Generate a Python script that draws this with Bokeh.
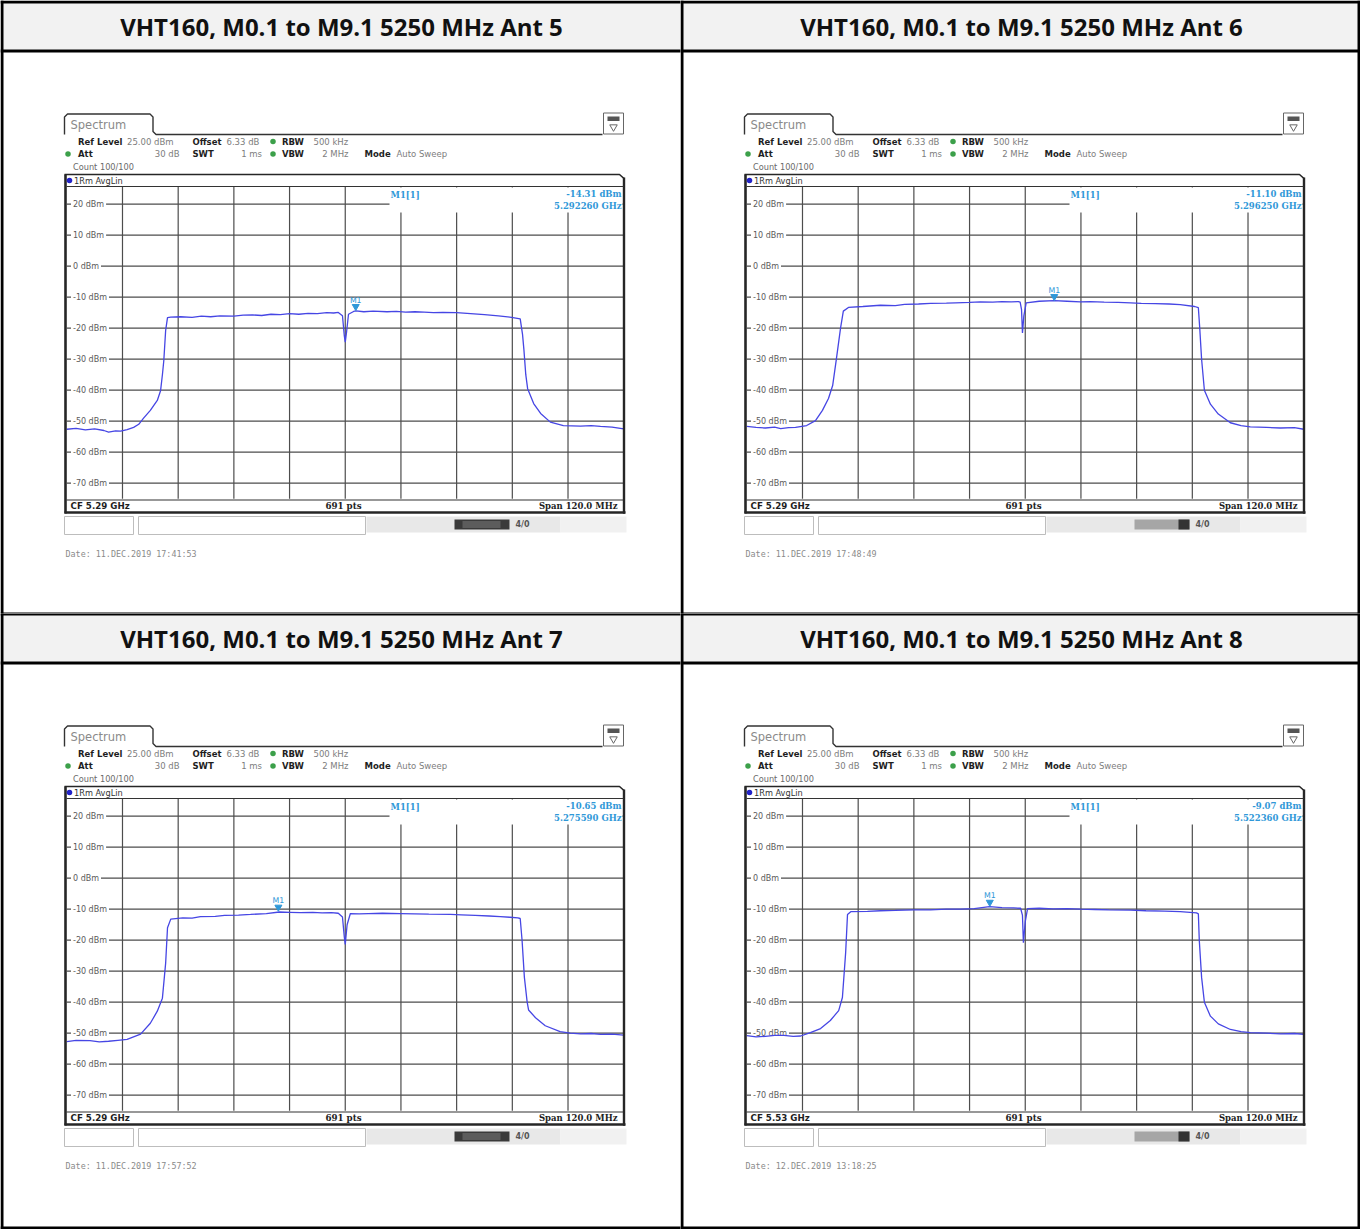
from bokeh.plotting import figure
from bokeh.layouts import gridplot
from bokeh.models import Range1d
from bokeh.core.properties import value
from bokeh.embed import file_html
from bokeh.resources import INLINE

# ---------------- data ----------------
panel_titles = [
    "VHT160, M0.1 to M9.1 5250 MHz Ant 5",
    "VHT160, M0.1 to M9.1 5250 MHz Ant 6",
    "VHT160, M0.1 to M9.1 5250 MHz Ant 7",
    "VHT160, M0.1 to M9.1 5250 MHz Ant 8",
]
cf_labels = ["CF 5.29 GHz", "CF 5.29 GHz", "CF 5.29 GHz", "CF 5.53 GHz"]
points_label = "691 pts"
span_label = "Span 120.0 MHz"
dates = [
    "Date: 11.DEC.2019  17:41:53",
    "Date: 11.DEC.2019  17:48:49",
    "Date: 11.DEC.2019  17:57:52",
    "Date: 12.DEC.2019  13:18:25",
]
marker_offset_mhz = [2.26, 6.25, -14.41, -7.64]
marker_level_dbm = [-14.31, -11.10, -10.65, -9.07]
marker_level_text = ["-14.31 dBm", "-11.10 dBm", "-10.65 dBm", "-9.07 dBm"]
marker_freq_text = ["5.292260 GHz", "5.296250 GHz", "5.275590 GHz", "5.522360 GHz"]

ref_level_dbm = 25.0
bottom_level_dbm = -75.0
span_mhz = 120.0
level_ticks = [20, 10, 0, -10, -20, -30, -40, -50, -60, -70]
freq_grid_mhz = [-48, -36, -24, -12, 0, 12, 24, 36, 48]

ant5_offset_mhz = [-60.0, -58.0, -56.0, -54.0, -52.0, -51.0, -49.5, -48.4, -47.0, -45.6,
                   -44.5, -43.5, -42.0, -40.5, -39.8, -39.4, -39.1, -38.7, -38.3, -37.6,
                   -35.5, -33.0, -31.0, -29.0, -27.0, -24.0, -22.0, -20.0, -18.0, -16.0,
                   -14.0, -12.0, -10.0, -8.0, -6.0, -4.0, -2.5, -1.5, -0.6, -0.2,
                   0.0, 0.3, 0.7, 1.8, 2.3, 4.0, 6.0, 9.0, 11.0, 13.0,
                   15.0, 17.0, 19.0, 21.0, 24.0, 27.0, 30.0, 33.0, 35.8, 37.7,
                   38.2, 38.5, 38.9, 39.3, 40.6, 42.1, 44.2, 47.0, 50.7, 53.0,
                   55.0, 57.5, 60.0]
ant5_level_dbm = [-52.6, -52.3, -52.8, -52.5, -53.0, -53.5, -53.1, -53.2, -52.7, -52.0,
                  -51.0, -49.1, -46.5, -43.3, -40.2, -35.0, -30.5, -20.7, -16.6, -16.4,
                  -16.3, -16.5, -16.1, -16.3, -16.0, -16.1, -15.8, -15.7, -15.9, -15.5,
                  -15.6, -15.3, -15.5, -15.2, -15.3, -15.0, -15.1, -14.9, -16.0, -22.5,
                  -24.5, -21.0, -15.5, -14.6, -14.4, -14.7, -14.5, -14.7, -14.6, -14.8,
                  -14.7, -14.8, -15.0, -14.9, -15.0, -15.3, -15.6, -16.0, -16.5, -17.0,
                  -22.0, -27.0, -35.0, -39.5, -44.3, -47.5, -50.3, -51.4, -51.6, -51.4,
                  -51.7, -51.9, -52.5]

ant6_offset_mhz = [-60.0, -58.0, -56.0, -54.0, -52.7, -51.0, -49.5, -47.1, -45.2, -43.7,
                   -42.4, -41.5, -40.7, -39.8, -39.2, -38.1, -35.0, -31.2, -28.0, -26.0,
                   -23.0, -20.4, -17.0, -15.0, -12.0, -9.7, -7.0, -5.0, -3.0, -1.5,
                   -1.1, -0.8, -0.6, -0.3, 0.2, 3.0, 6.25, 9.0, 11.9, 14.0,
                   17.0, 20.0, 22.7, 25.0, 28.0, 31.0, 33.4, 36.5, 37.3, 37.6,
                   38.0, 38.6, 39.9, 41.6, 44.2, 46.5, 48.5, 52.0, 55.0, 58.0,
                   60.0]
ant6_level_dbm = [-51.7, -52.0, -52.2, -51.9, -52.4, -52.1, -52.0, -51.4, -49.8, -46.5,
                  -42.7, -38.5, -30.0, -20.0, -14.5, -13.3, -13.0, -12.6, -12.7, -12.3,
                  -12.2, -12.0, -11.9, -11.8, -11.7, -11.5, -11.6, -11.4, -11.5, -11.4,
                  -11.6, -14.0, -21.5, -16.0, -11.8, -11.3, -11.1, -11.3, -11.5, -11.4,
                  -11.6, -11.7, -11.8, -12.0, -12.1, -12.2, -12.4, -13.0, -13.4, -20.0,
                  -30.0, -40.0, -44.5, -47.7, -50.5, -51.4, -51.8, -52.0, -52.2, -52.1,
                  -52.6]

ant7_offset_mhz = [-60.0, -58.0, -55.0, -53.0, -51.0, -49.0, -47.0, -44.1, -42.0, -40.5,
                   -39.4, -38.7, -38.3, -37.6, -35.0, -33.0, -31.2, -28.0, -26.0, -23.0,
                   -20.4, -17.0, -14.2, -12.0, -9.7, -7.0, -5.0, -3.0, -1.5, -0.6,
                   -0.2, 0.0, 0.4, 1.1, 3.0, 5.0, 8.0, 11.9, 15.0, 18.0,
                   22.7, 25.0, 28.0, 31.0, 33.4, 35.5, 37.2, 37.7, 38.1, 38.6,
                   39.2, 39.5, 41.0, 43.1, 46.3, 48.5, 50.7, 53.0, 55.0, 57.5,
                   60.0]
ant7_level_dbm = [-52.7, -52.3, -52.4, -52.8, -52.6, -52.3, -52.0, -50.3, -46.8, -42.9,
                  -38.7, -27.4, -16.0, -13.2, -12.8, -12.9, -12.4, -12.3, -12.0, -11.9,
                  -11.7, -11.4, -10.9, -11.0, -11.1, -11.0, -11.2, -11.1, -11.3, -12.5,
                  -19.0, -21.4, -15.0, -11.4, -11.5, -11.4, -11.3, -11.4, -11.5, -11.6,
                  -11.7, -11.8, -12.0, -12.2, -12.4, -12.6, -12.8, -13.0, -20.0, -32.0,
                  -40.0, -42.5, -45.0, -47.6, -49.5, -50.0, -50.2, -50.1, -50.4, -50.3,
                  -50.6]

ant8_offset_mhz = [-60.0, -58.0, -56.0, -54.0, -52.0, -50.0, -48.4, -46.3, -44.1, -42.0,
                   -40.2, -39.4, -38.7, -38.3, -37.6, -34.0, -31.2, -28.0, -24.0, -20.4,
                   -17.0, -14.0, -11.0, -7.7, -5.0, -2.5, -1.0, -0.6, -0.4, 0.0,
                   0.5, 3.0, 6.0, 9.0, 11.9, 15.0, 18.0, 22.7, 26.0, 30.0,
                   33.4, 36.9, 37.3, 37.5, 38.0, 38.6, 39.9, 41.6, 44.2, 46.5,
                   48.5, 52.0, 55.0, 58.0, 60.0]
ant8_level_dbm = [-50.8, -51.2, -51.0, -50.7, -50.7, -51.0, -50.9, -49.8, -48.5, -45.9,
                  -42.7, -38.5, -24.0, -11.7, -10.8, -10.7, -10.5, -10.4, -10.2, -10.2,
                  -10.0, -10.0, -9.8, -9.2, -9.5, -9.6, -9.7, -12.0, -20.8, -14.0,
                  -9.8, -9.7, -9.9, -9.8, -10.0, -10.1, -10.2, -10.3, -10.5, -10.6,
                  -10.8, -11.2, -11.5, -20.0, -32.0, -40.0, -44.5, -47.0, -48.8, -49.5,
                  -49.8, -50.0, -50.2, -50.1, -50.4]

traces = [
    (ant5_offset_mhz, ant5_level_dbm),
    (ant6_offset_mhz, ant6_level_dbm),
    (ant7_offset_mhz, ant7_level_dbm),
    (ant8_offset_mhz, ant8_level_dbm),
]

# instrument settings text: (text, bold?, x, align)
setting_rows = [
    [("Ref Level", True, 77.5, "left"), ("25.00 dBm", False, 126.5, "left"),
     ("Offset", True, 192, "left"), ("6.33 dB", False, 226, "left"),
     ("RBW", True, 281.5, "left"), ("500 kHz", False, 313, "left")],
    [("Att", True, 77.5, "left"), ("30 dB", False, 179, "right"),
     ("SWT", True, 192, "left"), ("1 ms", False, 261.5, "right"),
     ("VBW", True, 281.5, "left"), ("2 MHz", False, 348, "right"),
     ("Mode", True, 364, "left"), ("Auto Sweep", False, 396, "left")],
]

# ---------------- layout geometry (reference pixels) ----------------
CELL_W = 680
ROW_TOP = [0, 613]
ROW_BOT = [613, 1229]
ROW_SHIFT = [0, 612]
FIG_W = 680
FIG_H = [613, 616]
GX0 = 66.3       # left edge of the diagram grid inside a cell
GW = 556.9       # grid width
GY0 = 188.2      # y of the reference level
PX_PER_DB = 3.1

SANS = value("DejaVu Sans")
SERIF = value("DejaVu Serif")
MONO = value("DejaVu Sans Mono")
HEAD = value("Open Sans")

TRACE = "#4646e4"
MARK = "#2f98d8"
GRID = "#4d4d4d"
FRAME = "#262626"


def txt(p, x, y, t, size, color, font=SANS, style="normal", align="left",
        baseline="middle", xr="px", yr="px", **kw):
    p.text(x=x, y=y, text=t, text_font=font, text_font_size=f"{size}px",
           text_font_style=style, text_color=color, text_align=align,
           text_baseline=baseline, x_range_name=xr, y_range_name=yr, **kw)


def make_cell(i):
    r, c = divmod(i, 2)
    ox = CELL_W * c
    oy = ROW_SHIFT[r]
    k = span_mhz / GW
    x_range = Range1d(-60 - GX0 * k, -60 + (CELL_W - GX0) * k)
    y0g = oy + GY0
    y_range = Range1d(ref_level_dbm - (ROW_BOT[r] - y0g) / PX_PER_DB,
                      ref_level_dbm + (y0g - ROW_TOP[r]) / PX_PER_DB)
    p = figure(width=FIG_W, height=FIG_H[r], x_range=x_range, y_range=y_range,
               output_backend="svg", toolbar_location=None,
               x_axis_location=None, y_axis_location=None, min_border=0)
    p.grid.visible = False
    p.outline_line_color = None
    p.background_fill_color = "white"
    p.border_fill_color = "white"
    p.extra_x_ranges = {"px": Range1d(ox, ox + CELL_W)}
    p.extra_y_ranges = {"px": Range1d(ROW_BOT[r], ROW_TOP[r])}
    P = dict(x_range_name="px", y_range_name="px")

    # ---- table header band ----
    p.quad(left=[3, 3], right=[1357, 1357], top=[3, 615], bottom=[49, 661],
           fill_color="#f2f2f2", line_color=None, **P)
    txt(p, [ox + 341], [oy + 26], [panel_titles[i]], 24, "#111", font=HEAD,
        style="bold", align="center")

    # ---- Spectrum tab & header ----
    p.line(x=[ox + 64, ox + 64, ox + 67, ox + 149.5, ox + 152.5, ox + 152.5, ox + 155.5, ox + 602],
           y=[oy + 134, oy + 116.5, oy + 113.5, oy + 113.5, oy + 116.5, oy + 131, oy + 134, oy + 134],
           line_color="#333333", line_width=1.4, **P)
    txt(p, [ox + 70], [oy + 124], ["Spectrum"], 11.5, "#8a8a8a")
    # icon at right
    p.quad(left=[ox + 603], right=[ox + 623], top=[oy + 112.5], bottom=[oy + 133.5],
           fill_color="white", line_color="#666666", line_width=1, **P)
    p.quad(left=[ox + 607], right=[ox + 619], top=[oy + 116], bottom=[oy + 120.5],
           fill_color="#555555", line_color=None, **P)
    p.scatter(x=[ox + 613], y=[oy + 126.5], marker="inverted_triangle", size=7.5,
              fill_color="white", line_color="#666666", **P)

    for row, yy in zip(setting_rows, [141, 153.5]):
        for t, bold, xx, al in row:
            if bold:
                txt(p, [ox + xx], [oy + yy], [t], 8.5, "#1e1e1e", style="bold", align=al)
            else:
                txt(p, [ox + xx], [oy + yy], [t], 8.5, "#7d7d7d", align=al)
    p.scatter(x=[ox + 67.5, ox + 272.5, ox + 272.5], y=[oy + 153.5, oy + 141, oy + 153.5],
              marker="circle", size=5.5, fill_color="#3ca04a", line_color=None, **P)
    txt(p, [ox + 72.5], [oy + 166], ["Count 100/100"], 8.2, "#6a6a6a")

    # ---- grid ----
    p.segment(x0=freq_grid_mhz, x1=freq_grid_mhz,
              y0=[bottom_level_dbm] * len(freq_grid_mhz),
              y1=[ref_level_dbm + 0.6] * len(freq_grid_mhz),
              line_color=GRID, line_width=1.2)
    p.segment(x0=[-60] * len(level_ticks), x1=[60] * len(level_ticks),
              y0=level_ticks, y1=level_ticks, line_color=GRID, line_width=1.2)
    # marker info box
    p.quad(left=[ox + 389], right=[ox + 622], top=[oy + 187], bottom=[oy + 212],
           fill_color="white", line_color=None, **P)
    # y labels
    p.text(x=[ox + 70.5] * len(level_ticks), y=level_ticks,
           text=[f"{t} dBm" for t in level_ticks], text_font=SANS,
           text_font_size="8px", text_color="#5a5a5a", text_align="left",
           text_baseline="middle", background_fill_color="white",
           padding=2, x_range_name="px")

    # ---- trace ----
    xs, ys = traces[i]
    p.line(x=xs, y=ys, line_color=TRACE, line_width=1.3)

    # ---- marker ----
    p.scatter(x=[marker_offset_mhz[i]], y=[marker_level_dbm[i] + 1.3],
              marker="inverted_triangle", size=7, fill_color=MARK, line_color=MARK)
    txt(p, [marker_offset_mhz[i]], [marker_level_dbm[i]], ["M1"], 7.8, MARK,
        xr="default", yr="default", align="center", y_offset=-10.5)
    txt(p, [ox + 390], [oy + 194], ["M1[1]"], 8.5, MARK, font=SERIF, style="bold")
    txt(p, [ox + 621], [oy + 193.5], [marker_level_text[i]], 8.5, MARK, font=SERIF,
        style="bold", align="right")
    txt(p, [ox + 621], [oy + 205], [marker_freq_text[i]], 8.5, MARK, font=SERIF,
        style="bold", align="right")

    # ---- diagram frame ----
    p.line(x=[ox + 64, ox + 619, ox + 623.5, ox + 623.5],
           y=[oy + 174, oy + 174, oy + 178, oy + 513], line_color=FRAME,
           line_width=1.6, **P)
    p.line(x=[ox + 65, ox + 65], y=[oy + 174, oy + 513], line_color=FRAME,
           line_width=2.6, **P)
    p.line(x=[ox + 623.5, ox + 623.5], y=[oy + 177, oy + 513], line_color=FRAME,
           line_width=2.4, **P)
    p.line(x=[ox + 64, ox + 625], y=[oy + 512, oy + 512], line_color=FRAME,
           line_width=2.6, **P)
    p.line(x=[ox + 66, ox + 623], y=[oy + 186, oy + 186], line_color="#333333",
           line_width=1.2, **P)
    p.line(x=[ox + 66, ox + 623], y=[oy + 499.5, oy + 499.5], line_color="#333333",
           line_width=1.2, **P)
    p.scatter(x=[ox + 69], y=[oy + 180], marker="circle", size=5.5,
              fill_color="#2323c8", line_color=None, **P)
    txt(p, [ox + 73.5], [oy + 180], ["1Rm AvgLin"], 8.2, "#333333")

    # bottom bar texts
    txt(p, [ox + 70], [oy + 505.5], [cf_labels[i]], 8.7, "#1e1e1e", style="bold")
    txt(p, [ox + 343], [oy + 505.5], [points_label], 8.7, "#1e1e1e", font=SERIF,
        style="bold", align="center")
    txt(p, [ox + 617], [oy + 505.5], [span_label], 8.5, "#1e1e1e", font=SERIF,
        style="bold", align="right")

    # status bar
    p.quad(left=[ox + 366, ox + 560], right=[ox + 560, ox + 626],
           top=[oy + 516, oy + 516], bottom=[oy + 532, oy + 532],
           fill_color=["#e8e8e8", "#f1f1f1"], line_color=None, **P)
    p.quad(left=[ox + 64, ox + 138], right=[ox + 133, ox + 365],
           top=[oy + 516, oy + 516], bottom=[oy + 534, oy + 534],
           fill_color="white", line_color="#bdbdbd", line_width=1, **P)
    if c == 0:
        p.quad(left=[ox + 454], right=[ox + 509], top=[oy + 519], bottom=[oy + 529],
               fill_color="#3a3a3a", line_color=None, **P)
        p.quad(left=[ox + 462], right=[ox + 500], top=[oy + 520.5], bottom=[oy + 527.5],
               fill_color="#5c5c5c", line_color=None, **P)
    else:
        p.quad(left=[ox + 454], right=[ox + 509], top=[oy + 519], bottom=[oy + 529],
               fill_color="#a6a6a6", line_color=None, **P)
        p.quad(left=[ox + 498], right=[ox + 509], top=[oy + 519], bottom=[oy + 529],
               fill_color="#333333", line_color=None, **P)
    txt(p, [ox + 515], [oy + 524], ["4/0"], 8, "#555555", style="bold")

    txt(p, [ox + 65], [oy + 553], [dates[i]], 8.4, "#8a8a8a", font=MONO)

    # ---- table lines ----
    p.multi_line(xs=[[1.5, 1.5], [681.5, 681.5], [1358.5, 1358.5]],
                 ys=[[0, 1229], [0, 1229], [0, 1229]],
                 line_color="black", line_width=3, **P)
    p.multi_line(xs=[[0, 1360]] * 5,
                 ys=[[1.5, 1.5], [50.5, 50.5], [613.5, 613.5], [662.5, 662.5], [1227.5, 1227.5]],
                 line_color="black", line_width=3, **P)
    return p


cells = [make_cell(i) for i in range(4)]
layout = gridplot([[cells[0], cells[1]], [cells[2], cells[3]]], toolbar_location=None)

with open("out.html", "w") as f:
    f.write(file_html(layout, INLINE))
